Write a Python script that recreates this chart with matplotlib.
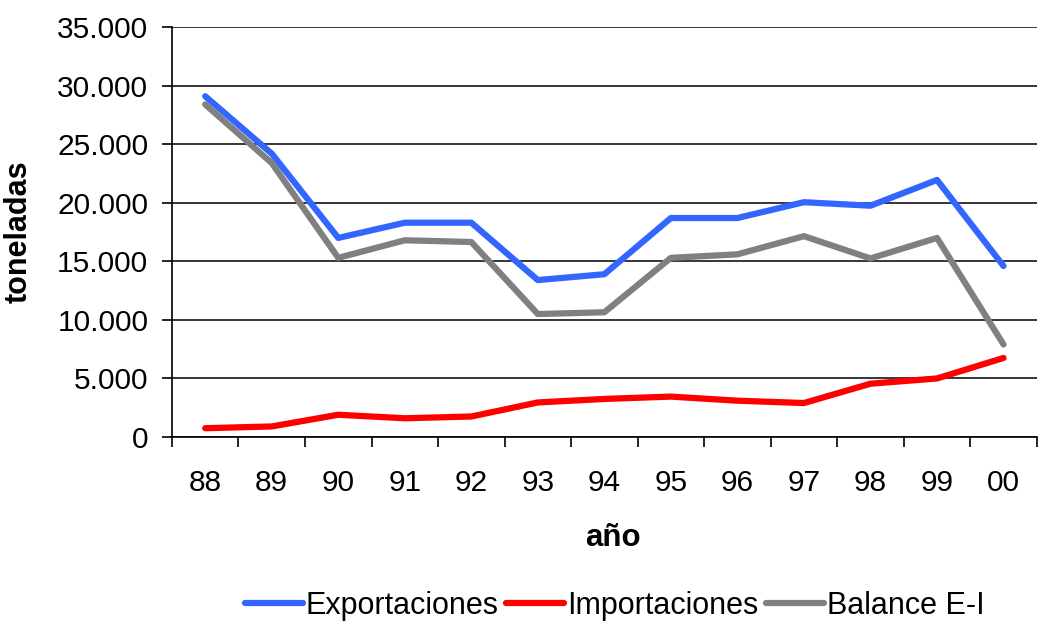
import matplotlib

matplotlib.use("Agg")

import matplotlib.pyplot as plt
import matplotlib.ticker as mticker
import numpy as np

plt.rcParams["font.family"] = ["Liberation Sans", "DejaVu Sans"]

# ---------------------------------------------------------------------------
# Data (toneladas)
# ---------------------------------------------------------------------------
years = ["88", "89", "90", "91", "92", "93", "94", "95", "96", "97", "98", "99", "00"]
exportaciones = [29100, 24200, 17000, 18300, 18300, 13400, 13900, 18700, 18700, 20050, 19750, 21950, 14600]
importaciones = [750, 900, 1900, 1600, 1750, 2950, 3250, 3450, 3100, 2900, 4550, 5000, 6750]
balance = [28400, 23400, 15300, 16800, 16650, 10500, 10650, 15300, 15600, 17150, 15250, 17000, 7900]

Y_TICKS = np.arange(0, 35001, 5000)

# ---------------------------------------------------------------------------
# Plot
# ---------------------------------------------------------------------------
fig = plt.figure(figsize=(10.42, 6.21), dpi=100)
ax = fig.add_axes([0.165, 0.2963, 0.830, 0.660])

x = np.arange(len(years))
ax.plot(x, exportaciones, color="#3366FF", lw=4.5, solid_capstyle="round", label="Exportaciones")
ax.plot(x, importaciones, color="#FF0000", lw=4.5, solid_capstyle="round", label="Importaciones")
ax.plot(x, balance, color="#808080", lw=4.5, solid_capstyle="round", label="Balance E-I")

ax.set_xlim(-0.5, len(years) - 0.5)
ax.set_ylim(0, 35000)

# category labels centred, tick marks at the boundaries
ax.set_xticks(x)
ax.set_xticklabels(years)
ax.set_xticks(np.arange(-0.5, len(years)), minor=True)
ax.tick_params(axis="x", which="major", length=0, pad=23, labelsize=21.5)
ax.tick_params(axis="x", which="minor", length=7, width=1.2, direction="out")

ax.set_yticks(Y_TICKS)
ax.yaxis.set_major_formatter(mticker.FuncFormatter(lambda v, _: f"{int(v):,}".replace(",", ".")))
ax.tick_params(axis="y", length=7, width=1.2, labelsize=21.5, pad=10)

ax.grid(True, axis="y", color="black", lw=1.1)
ax.set_axisbelow(True)
for side in ("top", "right"):
    ax.spines[side].set_visible(False)
for side in ("left", "bottom"):
    ax.spines[side].set_linewidth(1.2)

ax.set_xlabel("año", fontsize=22.5, fontweight="bold", labelpad=19)
ax.xaxis.label.set_x(0.51)
ax.set_ylabel("toneladas", fontsize=22, fontweight="bold", labelpad=17)

fig.legend(
    loc="center",
    bbox_to_anchor=(0.59, 0.024),
    ncol=3,
    frameon=False,
    fontsize=22,
    handlelength=1.9,
    handletextpad=0.1,
    columnspacing=0.25,
)

fig.savefig("out.png", dpi=100)
